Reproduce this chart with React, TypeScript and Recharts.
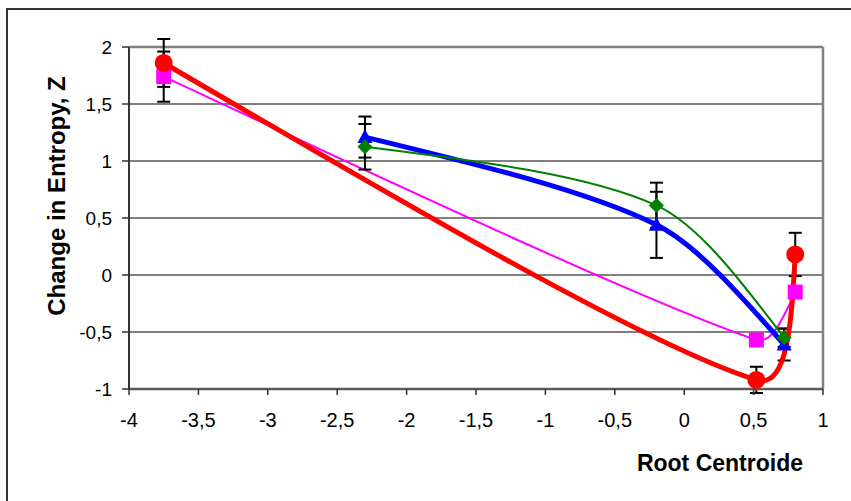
import React from 'react';
import { LineChart, Line, XAxis, YAxis, CartesianGrid, ErrorBar, ReferenceLine, Label } from 'recharts';

// series values
const redX = [-3.75, 0.52, 0.8];
const redY = [1.86, -0.92, 0.18];
const redErr = [0.21, 0.115, 0.19];

const pinkX = [-3.75, 0.52, 0.8];
const pinkY = [1.74, -0.57, -0.15];
const pinkErr = [0.22, 0.04, 0.04];

const greenX = [-2.3, -0.2, 0.72];
const greenY = [1.125, 0.61, -0.55];
const greenErr = [0.2, 0.2, 0.08];

const blueX = [-2.3, -0.2, 0.72];
const blueY = [1.21, 0.44, -0.61];
const blueErr = [0.18, 0.29, 0.14];

const xTicks = [-4, -3.5, -3, -2.5, -2, -1.5, -1, -0.5, 0, 0.5, 1];
const yTicks = [-1, -0.5, 0, 0.5, 1, 1.5, 2];

const rows = (xs: number[], ys: number[], errs: number[]) =>
  xs.map((x, i) => ({ x, y: ys[i], err: errs[i] }));

const redData = rows(redX, redY, redErr);
const pinkData = rows(pinkX, pinkY, pinkErr);
const greenData = rows(greenX, greenY, greenErr);
const blueData = rows(blueX, blueY, blueErr);

const font = 'Arial, "Liberation Sans", sans-serif';
const comma = (v: number) => String(v).replace('.', ',');

// bezier smoothing in the spirit of the spreadsheet "smoothed line":
// tangent = (next - prev) / 6, shortened when the segment it leads into is short
const smooth = (ctx: any) => {
  let pts: number[][] = [];
  const len = (a: number[], b: number[]) => Math.hypot(b[0] - a[0], b[1] - a[1]);
  const tangent = (i: number, side: number) => {
    const prev = pts[i - 1];
    const next = pts[i + 1];
    let v = [(next[0] - prev[0]) / 6, (next[1] - prev[1]) / 6];
    const seg = len(pts[i], pts[i + side]);
    const m = Math.hypot(v[0], v[1]);
    const lim = seg * 0.25;
    if (m > lim) v = [(v[0] * lim) / m, (v[1] * lim) / m];
    return v;
  };
  return {
    areaStart() {},
    areaEnd() {},
    lineStart() {
      pts = [];
    },
    point(x: number, y: number) {
      pts.push([+x, +y]);
    },
    lineEnd() {
      const n = pts.length;
      if (!n) return;
      ctx.moveTo(pts[0][0], pts[0][1]);
      if (n === 2) {
        ctx.lineTo(pts[1][0], pts[1][1]);
        return;
      }
      for (let i = 0; i < n - 1; i++) {
        const p1 = pts[i];
        const p2 = pts[i + 1];
        let c1: number[] | null = null;
        let c2: number[] | null = null;
        if (i > 0) {
          const t = tangent(i, 1);
          c1 = [p1[0] + t[0], p1[1] + t[1]];
        }
        if (i + 1 < n - 1) {
          const t = tangent(i + 1, -1);
          c2 = [p2[0] - t[0], p2[1] - t[1]];
        }
        if (!c1 && c2) c1 = [p1[0] + (c2[0] - p1[0]) / 2, p1[1] + (c2[1] - p1[1]) / 2];
        if (!c2 && c1) c2 = [p2[0] + (c1[0] - p2[0]) / 2, p2[1] + (c1[1] - p2[1]) / 2];
        ctx.bezierCurveTo(c1![0], c1![1], c2![0], c2![1], p2[0], p2[1]);
      }
    },
  };
};

const circleDot = (p: any) => <circle key={p.index} cx={p.cx} cy={p.cy} r={9} fill="#ff0000" />;
const squareDot = (p: any) => (
  <rect key={p.index} x={p.cx - 7.5} y={p.cy - 7.5} width={15} height={15} fill="#ff00ff" />
);
const diamondDot = (p: any) => (
  <polygon
    key={p.index}
    points={`${p.cx},${p.cy - 7.5} ${p.cx + 7.5},${p.cy} ${p.cx},${p.cy + 7.5} ${p.cx - 7.5},${p.cy}`}
    fill="#008000"
  />
);
const triangleDot = (p: any) => (
  <polygon
    key={p.index}
    points={`${p.cx},${p.cy - 8} ${p.cx + 7.5},${p.cy + 6} ${p.cx - 7.5},${p.cy + 6}`}
    fill="#0000ff"
  />
);

const yTitle = () => (
  <text
    transform="translate(65,196) rotate(-90)"
    textAnchor="middle"
    fontFamily={font}
    fontWeight="bold"
    fontSize={24}
    fill="#000"
  >
    Change in Entropy, Z
  </text>
);

const xTitle = () => (
  <text x={803} y={471} textAnchor="end" fontFamily={font} fontWeight="bold" fontSize={23} fill="#000">
    Root Centroide
  </text>
);

const bar = { stroke: '#000', strokeWidth: 2, width: 6.5, direction: 'y' as const };

export default function App() {
  return (
    <div style={{ position: 'absolute', left: 0, top: 0, width: 851, height: 501, overflow: 'hidden', background: '#fff' }}>
      {/* error bars may poke out of the plot area, as in the original */}
      <style>{'.recharts-line[clip-path], .recharts-line [clip-path] { clip-path: none !important; }'}</style>
      <div
        style={{
          position: 'absolute',
          left: 6,
          top: 8,
          width: 870,
          height: 520,
          border: '2px solid #333',
          boxSizing: 'border-box',
        }}
      />
      <div style={{ position: 'absolute', left: 0, top: 0 }}>
        <LineChart width={851} height={501} margin={{ top: 47, right: 28, bottom: 0, left: 0 }}>
          <CartesianGrid vertical={false} stroke="#000" strokeWidth={1} />
          <XAxis
            type="number"
            dataKey="x"
            domain={[-4, 1]}
            allowDataOverflow
            ticks={xTicks}
            tickFormatter={comma}
            height={112}
            tickSize={6}
            tickMargin={18}
            axisLine={{ stroke: '#5a5a5a', strokeWidth: 2.5 }}
            tickLine={{ stroke: '#333', strokeWidth: 1.5 }}
            tick={{ fill: '#000', fontSize: 20, fontFamily: font }}
          >
            <Label content={xTitle} />
          </XAxis>
          <YAxis
            type="number"
            dataKey="y"
            domain={[-1, 2]}
            allowDataOverflow
            ticks={yTicks}
            tickFormatter={comma}
            width={129}
            tickSize={7}
            tickMargin={10}
            axisLine={{ stroke: '#333', strokeWidth: 2 }}
            tickLine={{ stroke: '#333', strokeWidth: 1.5 }}
            tick={{ fill: '#000', fontSize: 19, fontFamily: font }}
          >
            <Label content={yTitle} />
          </YAxis>
          <ReferenceLine y={2} stroke="#808080" strokeWidth={2.5} />
          <ReferenceLine x={1} stroke="#808080" strokeWidth={2.5} />
          <Line
            data={pinkData}
            dataKey="y"
            type={smooth as any}
            stroke="#ff00ff"
            strokeWidth={2}
            dot={squareDot}
            activeDot={false}
            isAnimationActive={false}
          >
            <ErrorBar dataKey="err" {...bar} />
          </Line>
          <Line
            data={blueData}
            dataKey="y"
            type={smooth as any}
            stroke="#0000ff"
            strokeWidth={5}
            dot={triangleDot}
            activeDot={false}
            isAnimationActive={false}
          >
            <ErrorBar dataKey="err" {...bar} />
          </Line>
          <Line
            data={greenData}
            dataKey="y"
            type={smooth as any}
            stroke="#008000"
            strokeWidth={2}
            dot={diamondDot}
            activeDot={false}
            isAnimationActive={false}
          >
            <ErrorBar dataKey="err" {...bar} />
          </Line>
          <Line
            data={redData}
            dataKey="y"
            type={smooth as any}
            stroke="#ff0000"
            strokeWidth={5}
            dot={circleDot}
            activeDot={false}
            isAnimationActive={false}
          >
            <ErrorBar dataKey="err" {...bar} />
          </Line>
        </LineChart>
      </div>
    </div>
  );
}
